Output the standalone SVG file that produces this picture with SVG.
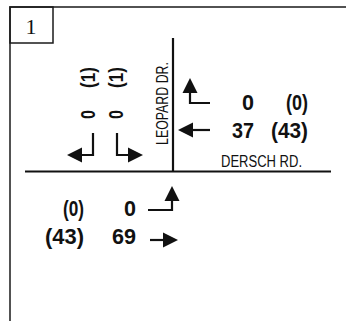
<svg xmlns="http://www.w3.org/2000/svg" width="346" height="321" viewBox="0 0 346 321">
  <style>
    .frame { fill: none; stroke: #1a1a1a; stroke-width: 1.5; }
    .road { fill: none; stroke: #111; stroke-width: 2.2; }
    .arrow { fill: none; stroke: #111; stroke-width: 2.2; marker-end: url(#ah); }
    .num { font-family: "Liberation Sans", Arial, sans-serif; font-weight: bold; font-size: 22px; fill: #111; text-anchor: end; }
    .vnum { font-family: "Liberation Sans", Arial, sans-serif; font-weight: bold; font-size: 20px; fill: #111; }
    .street { font-family: "Liberation Sans", Arial, sans-serif; font-size: 16px; fill: #111; }
    .label { font-family: "Liberation Serif", "Times New Roman", serif; font-size: 22px; fill: #111; text-anchor: middle; }
  </style>
  <defs>
    <marker id="ah" markerUnits="userSpaceOnUse" markerWidth="18" markerHeight="18" viewBox="0 -9 18 18" refX="0" refY="0" orient="auto" overflow="visible">
      <path d="M0,-7.5 L15,0 L0,7.5 z" fill="#111"/>
    </marker>
  </defs>

  <g id="frame">
    <path class="frame" d="M10,321 V7 H346"/>
    <rect class="frame" x="10" y="7" width="43" height="36"/>
    <text class="label" x="31" y="34">1</text>
  </g>

  <g id="roads">
    <line class="road" x1="173" y1="38" x2="173" y2="171.5"/>
    <line class="road" x1="25" y1="171.5" x2="331" y2="171.5"/>
    <text id="leopard" class="street" transform="translate(168,145) rotate(-90)" textLength="83" lengthAdjust="spacingAndGlyphs">LEOPARD DR.</text>
    <text id="dersch" class="street" x="221" y="167" textLength="81" lengthAdjust="spacingAndGlyphs">DERSCH RD.</text>
  </g>

  <g id="connectors">
    <!-- westbound -->
    <polyline class="arrow" points="210,103 190,103 190,93"/>
    <polyline class="arrow" points="210,130 193,130"/>
    <!-- southbound -->
    <polyline class="arrow" points="93,133 93,155 82,155"/>
    <polyline class="arrow" points="117,133 117,155 128,155"/>
    <!-- eastbound -->
    <polyline class="arrow" points="148,210 172,210 172,201"/>
    <polyline class="arrow" points="150,240 163,240"/>
  </g>

  <g id="westbound">
    <text class="num" x="254" y="110" textLength="12" lengthAdjust="spacingAndGlyphs">0</text>
    <text class="num" x="308" y="110" textLength="22" lengthAdjust="spacingAndGlyphs">(0)</text>
    <text class="num" x="254" y="138" textLength="22" lengthAdjust="spacingAndGlyphs">37</text>
    <text class="num" x="308" y="138" textLength="37" lengthAdjust="spacingAndGlyphs">(43)</text>
  </g>

  <g id="southbound">
    <text class="vnum" transform="translate(95,119) rotate(-90)" textLength="9" lengthAdjust="spacingAndGlyphs">0</text>
    <text class="vnum" transform="translate(95,88) rotate(-90)" textLength="21" lengthAdjust="spacingAndGlyphs">(1)</text>
    <text class="vnum" transform="translate(123,119) rotate(-90)" textLength="9" lengthAdjust="spacingAndGlyphs">0</text>
    <text class="vnum" transform="translate(123,88) rotate(-90)" textLength="21" lengthAdjust="spacingAndGlyphs">(1)</text>
  </g>

  <g id="eastbound">
    <text class="num" x="84" y="216" textLength="21" lengthAdjust="spacingAndGlyphs">(0)</text>
    <text class="num" x="136" y="216" textLength="12" lengthAdjust="spacingAndGlyphs">0</text>
    <text class="num" x="84" y="244" textLength="39" lengthAdjust="spacingAndGlyphs">(43)</text>
    <text class="num" x="136" y="244" textLength="24" lengthAdjust="spacingAndGlyphs">69</text>
  </g>
</svg>
